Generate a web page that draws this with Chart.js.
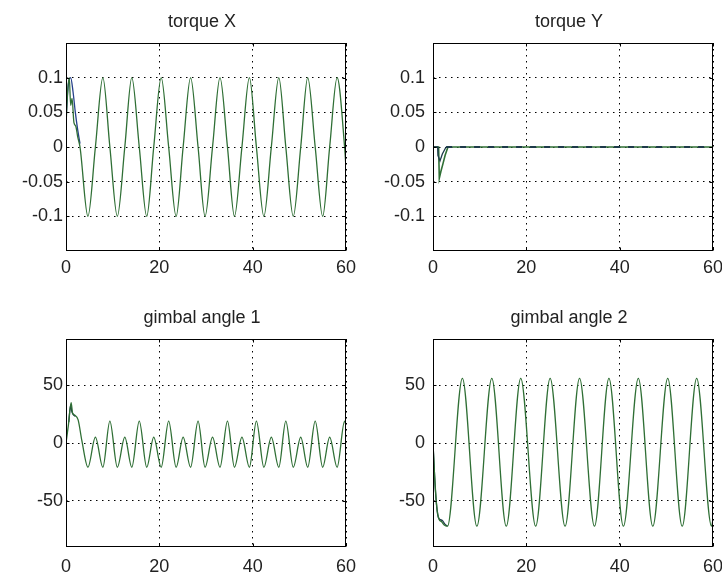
<!DOCTYPE html>
<html>
<head>
<meta charset="utf-8">
<script src="https://cdn.jsdelivr.net/npm/chart.js@4.4.1/dist/chart.umd.min.js"></script>
<style>
  html, body { margin: 0; padding: 0; background: #fff; }
  #figure { position: relative; width: 722px; height: 573px; overflow: hidden; background: #fff; }
  #figure canvas { position: absolute; display: block; }
</style>
</head>
<body>
<div id="figure">
  <canvas id="torqueX" width="361" height="290" style="left:0;top:0"></canvas>
  <canvas id="torqueY" width="361" height="290" style="left:361px;top:0"></canvas>
  <canvas id="gimbal1" width="361" height="283" style="left:0;top:290px"></canvas>
  <canvas id="gimbal2" width="361" height="283" style="left:361px;top:290px"></canvas>
</div>
<script>
// time axis (seconds)
const timeTicks = [0, 20, 40, 60];
const timeTickLabels = ['0', '20', '40', '60'];

const torqueTicks = [-0.1, -0.05, 0, 0.05, 0.1];
const torqueTickLabels = ['-0.1', '-0.05', '0', '0.05', '0.1'];
const angleTicks = [-50, 0, 50];
const angleTickLabels = ['-50', '0', '50'];

// torque X
const torqueXTime = [0, 0.3, 0.7, 1.0, 1.3, 1.7, 2.1, 2.5, 3.0,
  4.7, 6.3, 7.9, 9.4, 11.0, 12.6, 14.1, 15.7, 17.3, 18.8, 20.4, 22.0, 23.6, 25.1,
  26.7, 28.3, 29.8, 31.4, 33.0, 34.6, 36.1, 37.7, 39.3, 40.8, 42.4, 44.0, 45.6,
  47.1, 48.7, 50.3, 51.8, 53.4, 55.0, 56.5, 58.1, 59.7, 60];
const torqueXValue = [0.03, 0.075, 0.1, 0.06, 0.07, 0.035, 0.03, 0.015, 0.0,
  -0.1, 0, 0.1, 0, -0.1, 0, 0.1, 0, -0.1, 0, 0.1, 0, -0.1, 0,
  0.1, 0, -0.1, 0, 0.1, 0, -0.1, 0, 0.1, 0, -0.1, 0, 0.1,
  0, -0.1, 0, 0.1, 0, -0.1, 0, 0.1, 0, -0.03];
const torqueXRefTime = [0, 0.5, 1.0, 1.5, 2.0, 2.5, 3.0];
const torqueXRefValue = [0.04, 0.09, 0.1, 0.08, 0.05, 0.025, 0.005];

// torque Y
const torqueYTime = [0, 1.2, 1.35, 1.7, 2.1, 2.6, 3.2, 60];
const torqueYValue = [0, 0, -0.045, -0.035, -0.025, -0.012, 0, 0];
const torqueYRefTime = [0, 1.0, 1.05, 1.5, 2.0, 2.8];
const torqueYRefValue = [0, 0, -0.012, -0.02, -0.01, 0];
const torqueYTailTime = [2.8, 60];
const torqueYTailValue = [0, 0];

// gimbal angle 1
const gimbal1Time = [0, 0.5, 1.1, 1.4, 1.9, 2.6, 3.4,
  4.7, 6.3, 7.9, 9.4, 11.0, 12.6, 14.1, 15.7, 17.3, 18.8, 20.4, 22.0, 23.6, 25.1,
  26.7, 28.3, 29.8, 31.4, 33.0, 34.6, 36.1, 37.7, 39.3, 40.8, 42.4, 44.0, 45.6,
  47.1, 48.7, 50.3, 51.8, 53.4, 55.0, 56.5, 58.1, 59.7, 60];
const gimbal1Value = [0, 15, 35, 26, 24, 20, 2,
  -21, 5, -21, 19, -21, 5, -21, 19, -21, 5, -21, 19, -21, 5,
  -21, 19, -21, 5, -21, 19, -21, 5, -21, 19, -21, 5, -21,
  19, -21, 5, -21, 19, -21, 5, -21, 19, 15];
const gimbal1RefTime = [0.6, 1.0, 1.2, 1.5, 2.0];
const gimbal1RefValue = [18, 33, 28, 25, 23];

// gimbal angle 2
const gimbal2Time = [0, 0.3, 0.8, 1.3, 1.8, 2.4, 3.1,
  6.3, 9.4, 12.6, 15.7, 18.8, 22.0, 25.1, 28.3, 31.4, 34.6, 37.7, 40.8,
  44.0, 47.1, 50.3, 53.4, 56.5, 59.7, 60];
const gimbal2Value = [0, -25, -55, -66, -68, -71, -72,
  56, -72, 56, -72, 56, -72, 56, -72, 56, -72, 56, -72,
  56, -72, 56, -72, 56, -72, -66];
const gimbal2RefTime = [0, 0.5, 1.0, 1.4, 2.0, 2.5, 3.1];
const gimbal2RefValue = [0, -40, -62, -66, -67, -70, -72];

const green = '#2f6f35';
const dark = '#1d3a4a';
const fontFamily = '"Liberation Sans", Arial, Helvetica, sans-serif';
const textColor = '#222';

function toPoints(times, values) {
    return times.map((t, i) => ({ x: t, y: values[i] }));
}

// axes box with inward ticks on all four sides
const boxFrame = {
    id: 'boxFrame',
    afterDraw(chart) {
        const { ctx, chartArea: a, scales } = chart;
        const L = Math.round(a.left) + 0.5;
        const R = Math.round(a.right) - 0.5;
        const T = Math.round(a.top) + 0.5;
        const B = Math.round(a.bottom) - 0.5;
        ctx.save();
        ctx.setLineDash([]);
        ctx.strokeStyle = '#000';
        ctx.lineWidth = 1;
        ctx.strokeRect(L, T, R - L, B - T);
        ctx.beginPath();
        scales.x.ticks.forEach(t => {
            const px = Math.round(scales.x.getPixelForValue(t.value)) + 0.5;
            ctx.moveTo(px, B); ctx.lineTo(px, B - 3);
            ctx.moveTo(px, T); ctx.lineTo(px, T + 3);
        });
        scales.y.ticks.forEach(t => {
            const py = Math.round(scales.y.getPixelForValue(t.value)) + 0.5;
            ctx.moveTo(L, py); ctx.lineTo(L + 3, py);
            ctx.moveTo(R, py); ctx.lineTo(R - 3, py);
        });
        ctx.stroke();
        ctx.restore();
    }
};

// title centred over the plot box rather than the whole canvas
const panelTitle = {
    id: 'panelTitle',
    afterDraw(chart, args, opts) {
        const { ctx, chartArea: a } = chart;
        ctx.save();
        ctx.font = '18px ' + fontFamily;
        ctx.fillStyle = textColor;
        ctx.textAlign = 'center';
        ctx.textBaseline = 'alphabetic';
        ctx.fillText(opts.text, (a.left + a.right) / 2 - 4, a.top - 16);
        ctx.restore();
    }
};

function drawPanel(id, title, datasets, yMin, yMax, yTicks, yLabels, col, row) {
    const ctx = document.getElementById(id).getContext('2d');
    const gridStyle = { color: '#000', lineWidth: 1, drawTicks: false };
    const dotted = { display: false, dash: [1.5, 4.5] };

    return new Chart(ctx, {
        type: 'line',
        data: { datasets: datasets },
        options: {
            responsive: false,
            animation: false,
            events: [],
            layout: {
                autoPadding: false,
                padding: { left: 0, right: col === 0 ? 15 : 9, top: row === 0 ? 43 : 49, bottom: 0 }
            },
            elements: {
                point: { radius: 0 },
                line: { borderWidth: 1.3, fill: false }
            },
            plugins: {
                legend: { display: false },
                tooltip: { enabled: false },
                panelTitle: { text: title }
            },
            scales: {
                x: {
                    type: 'linear',
                    min: 0,
                    max: 60,
                    afterBuildTicks: scale => { scale.ticks = timeTicks.map(v => ({ value: v })); },
                    afterFit: scale => {
                        scale.height = row === 0 ? 39 : 26;
                        scale.paddingLeft = 0;
                        scale.paddingRight = 0;
                    },
                    grid: gridStyle,
                    border: dotted,
                    ticks: {
                        color: textColor,
                        padding: row === 0 ? 6 : 9,
                        maxRotation: 0,
                        font: { family: fontFamily, size: 18 },
                        callback: (v, i) => timeTickLabels[i]
                    }
                },
                y: {
                    type: 'linear',
                    min: yMin,
                    max: yMax,
                    afterBuildTicks: scale => { scale.ticks = yTicks.map(v => ({ value: v })); },
                    afterFit: scale => { scale.width = col === 0 ? 66 : 72; },
                    grid: gridStyle,
                    border: dotted,
                    ticks: {
                        color: textColor,
                        padding: col === 0 ? 3 : 8,
                        font: { family: fontFamily, size: 18 },
                        callback: (v, i) => yLabels[i]
                    }
                }
            }
        },
        plugins: [boxFrame, panelTitle]
    });
}

// green trace first so it is drawn over the darker one
drawPanel('torqueX', 'torque X', [
    { data: toPoints(torqueXTime, torqueXValue), borderColor: green, cubicInterpolationMode: 'monotone' },
    { data: toPoints(torqueXRefTime, torqueXRefValue), borderColor: '#26408a', cubicInterpolationMode: 'monotone' }
], -0.15, 0.15, torqueTicks, torqueTickLabels, 0, 0);

drawPanel('torqueY', 'torque Y', [
    { data: toPoints(torqueYTailTime, torqueYTailValue), borderColor: dark, borderWidth: 2, borderDash: [6, 8] },
    { data: toPoints(torqueYRefTime, torqueYRefValue), borderColor: dark, tension: 0 },
    { data: toPoints(torqueYTime, torqueYValue), borderColor: green, borderWidth: 1.6, tension: 0 }
], -0.15, 0.15, torqueTicks, torqueTickLabels, 1, 0);

drawPanel('gimbal1', 'gimbal angle 1', [
    { data: toPoints(gimbal1Time, gimbal1Value), borderColor: green, cubicInterpolationMode: 'monotone' },
    { data: toPoints(gimbal1RefTime, gimbal1RefValue), borderColor: dark, cubicInterpolationMode: 'monotone' }
], -90, 90, angleTicks, angleTickLabels, 0, 1);

drawPanel('gimbal2', 'gimbal angle 2', [
    { data: toPoints(gimbal2Time, gimbal2Value), borderColor: green, cubicInterpolationMode: 'monotone' },
    { data: toPoints(gimbal2RefTime, gimbal2RefValue), borderColor: dark, cubicInterpolationMode: 'monotone' }
], -90, 90, angleTicks, angleTickLabels, 1, 1);
</script>
</body>
</html>
